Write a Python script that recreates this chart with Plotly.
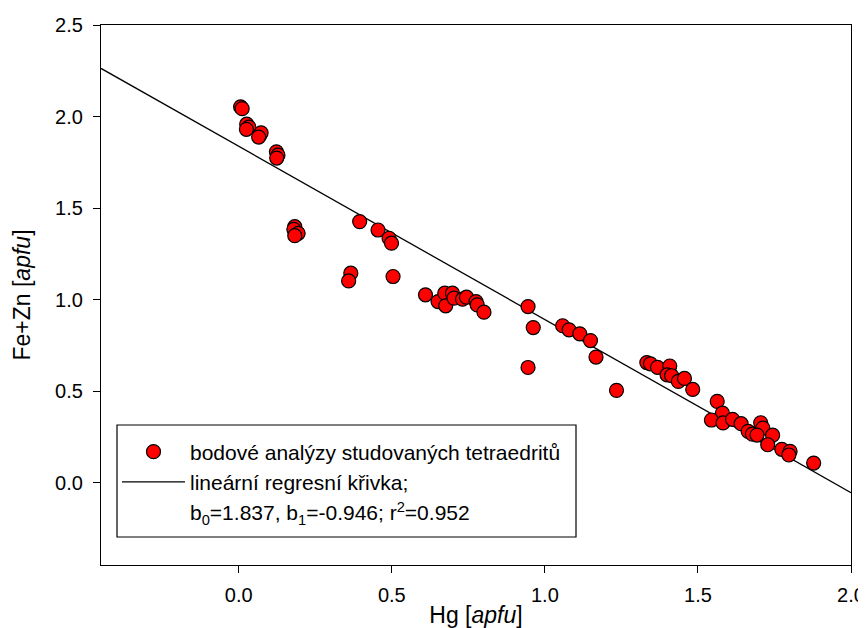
import plotly.graph_objects as go

# Hg [apfu] vs Fe+Zn [apfu] point analyses
hg = [0.006, 0.011, 0.026, 0.033, 0.025, 0.069, 0.073, 0.065, 0.123, 0.128, 0.124,
      0.183, 0.180, 0.194, 0.183, 0.395, 0.455, 0.491, 0.499, 0.366, 0.359, 0.504,
      0.610, 0.651, 0.673, 0.676, 0.698, 0.703, 0.731, 0.744, 0.775, 0.779, 0.801,
      0.945, 0.962, 0.945, 1.058, 1.079, 1.114, 1.149, 1.167, 1.234,
      1.333, 1.345, 1.368, 1.408, 1.399, 1.414, 1.436, 1.456, 1.483,
      1.563, 1.580, 1.544, 1.582, 1.613, 1.641, 1.664, 1.678, 1.705, 1.712,
      1.693, 1.744, 1.728, 1.774, 1.801, 1.797, 1.878]
fezn = [2.053, 2.043, 1.958, 1.942, 1.930, 1.899, 1.911, 1.888, 1.807, 1.789, 1.773,
        1.398, 1.384, 1.362, 1.349, 1.426, 1.380, 1.335, 1.308, 1.144, 1.102, 1.126,
        1.026, 0.989, 1.035, 0.966, 1.035, 1.008, 1.002, 1.013, 0.989, 0.971, 0.931,
        0.962, 0.847, 0.629, 0.857, 0.835, 0.813, 0.776, 0.686, 0.504,
        0.656, 0.649, 0.630, 0.637, 0.589, 0.584, 0.553, 0.569, 0.509,
        0.444, 0.380, 0.342, 0.326, 0.346, 0.322, 0.280, 0.265, 0.327, 0.298,
        0.260, 0.259, 0.207, 0.182, 0.171, 0.151, 0.107]

# linear regression
b0 = 1.837
b1 = -0.946
r2 = 0.952
x_range = [-0.45, 2.0]
y_range = [-0.45, 2.5]
x_ticks = [0.0, 0.5, 1.0, 1.5, 2.0]
y_ticks = [0.0, 0.5, 1.0, 1.5, 2.0, 2.5]

line_x = x_range
line_y = [b0 + b1 * x for x in line_x]

FONT = "Arial, Liberation Sans, sans-serif"

fig = go.Figure()
fig.add_trace(go.Scatter(
    x=line_x, y=line_y, mode="lines",
    line=dict(color="black", width=1.3),
    name="lineární regresní křivka;", legendrank=2,
))
fig.add_trace(go.Scatter(
    x=hg, y=fezn, mode="markers",
    marker=dict(color="#ff0000", size=14, line=dict(color="black", width=1.2)),
    name="bodové analýzy studovaných tetraedritů", legendrank=1,
))
fig.add_trace(go.Scatter(
    x=[None], y=[None], mode="lines", line=dict(color="rgba(0,0,0,0)", width=0),
    name=f"b<sub>0</sub>={b0:.3f}, b<sub>1</sub>={b1:.3f}; r<sup>2</sup>={r2:.3f}",
    legendrank=3,
))

# the page body adds an 8px offset, so the figure is sized to fit inside
OFF = 8
W, H = 866 - OFF, 628 - OFF
L, R, T, B = 101 - OFF, 15, 25 - OFF, 63
pw, ph = W - L - R, H - T - B

def px2paper(x0, y0, x1, y1):
    # pixel coords in the final screenshot -> paper coords
    x0 -= OFF; x1 -= OFF; y0 -= OFF; y1 -= OFF
    return dict(x0=(x0 - L) / pw, x1=(x1 - L) / pw,
                y0=(H - B - y1) / ph, y1=(H - B - y0) / ph)

box = px2paper(117, 425, 576, 537)
fig.add_shape(type="rect", xref="paper", yref="paper",
              line=dict(color="black", width=1.2), fillcolor="white",
              layer="below", **box)

axis_common = dict(
    showline=True, linecolor="black", linewidth=1.3, mirror=True,
    ticks="outside", ticklen=7, tickwidth=1.3, tickcolor="black",
    showgrid=False, zeroline=False, tickformat=".1f", automargin=False,
    tickfont=dict(family=FONT, size=20, color="black"),
)

fig.update_layout(
    width=W, height=H,
    margin=dict(l=L, r=R, t=T, b=B),
    paper_bgcolor="white", plot_bgcolor="white",
    font=dict(family=FONT, color="black"),
    xaxis=dict(range=x_range, tickvals=x_ticks, ticklabelstandoff=5,
               title=dict(text="Hg [<i>apfu</i>]", font=dict(size=23), standoff=6),
               **axis_common),
    yaxis=dict(range=y_range, tickvals=y_ticks, ticklabelstandoff=6,
               title=dict(text="Fe+Zn [<i>apfu</i>]", font=dict(size=23), standoff=17),
               **axis_common),
    legend=dict(x=box["x0"], y=box["y1"] - 0.012, xanchor="left", yanchor="top",
                bgcolor="rgba(0,0,0,0)", borderwidth=0, itemwidth=63,
                font=dict(family=FONT, size=21, color="black"),
                tracegroupgap=0),
    showlegend=True,
)

fig.write_html("out.html")
